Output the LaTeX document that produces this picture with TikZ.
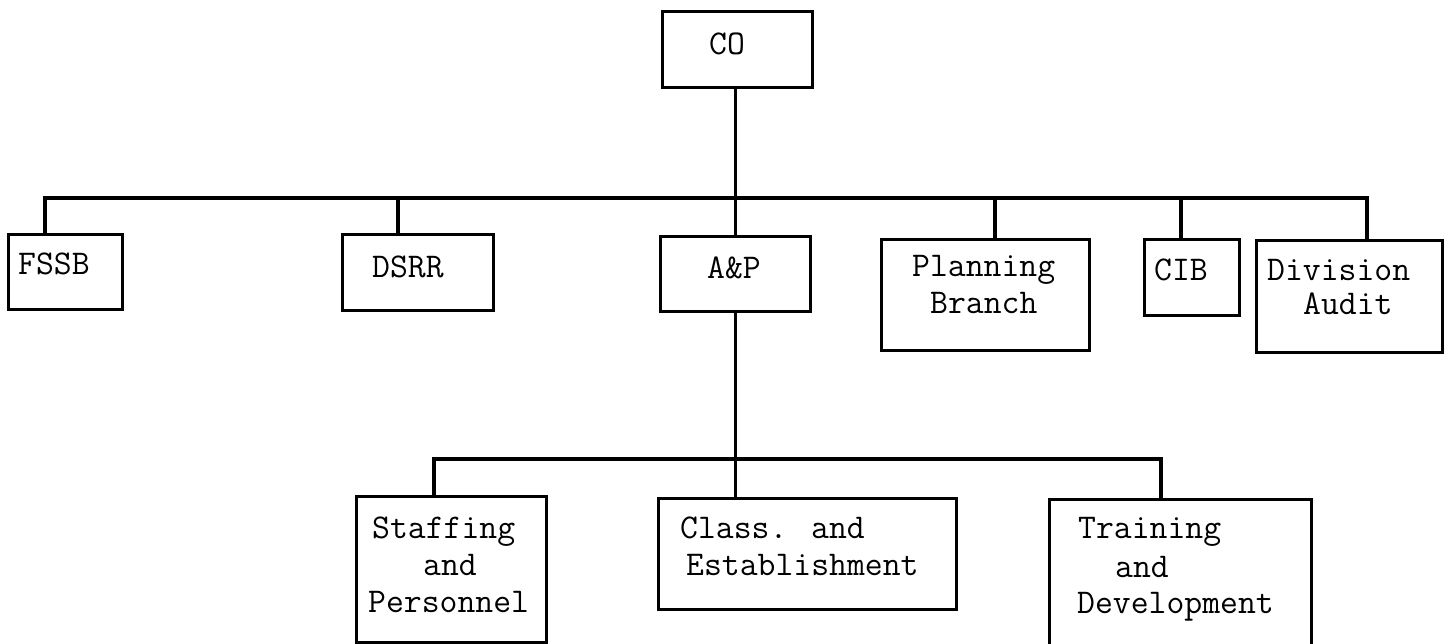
\documentclass[tikz,border=0pt]{standalone}
\usepackage{fontspec}
\begin{document}
\begin{tikzpicture}[x=1pt,y=-1pt,
  box/.style={draw, line width=3.2pt, rectangle, inner sep=0pt, anchor=north west},
  lbl/.style={inner sep=0pt, anchor=base west, font=\fontsize{34.7}{37}\selectfont\ttfamily\addfontfeature{FakeBold=0.7}},
  conn/.style={line width=3.2pt}]
\useasboundingbox (0,0) rectangle (1448,644);
% boxes
\node[box, minimum width=150pt, minimum height=76pt] (co) at (661,10) {};
\node[box, minimum width=114pt, minimum height=75pt] (fssb) at (7,233) {};
\node[box, minimum width=151pt, minimum height=76pt] (dsrr) at (341,233) {};
\node[box, minimum width=150pt, minimum height=75pt] (ap) at (659,235) {};
\node[box, minimum width=208pt, minimum height=111pt] (plan) at (880,238) {};
\node[box, minimum width=95pt, minimum height=76pt] (cib) at (1143,238) {};
\node[box, minimum width=186pt, minimum height=112pt] (audit) at (1255,239) {};
\node[box, minimum width=190pt, minimum height=146pt] (staff) at (355,495) {};
\node[box, minimum width=298pt, minimum height=111pt] (class) at (657,497) {};
\node[box, minimum width=262pt, minimum height=150pt] (train) at (1048,498) {};
% texts
\node[lbl] (tco) at (709,55) {CO};
\node[lbl] (tfssb) at (18,275) {FSSB};
\node[lbl] (tdsrr) at (372,278) {DSRR};
\node[lbl] (tap) at (707,279) {A\&P};
\node[lbl] (tplan1) at (912,277) {Planning};
\node[lbl] (tplan2) at (930,313) {Branch};
\node[lbl] (tcib) at (1154,281) {CIB};
\node[lbl] (taud1) at (1267,280) {Division};
\node[lbl] (taud2) at (1303,314) {Audit};
\node[lbl] (tst1) at (372,538) {Staffing};
\node[lbl] (tst2) at (423,575) {and};
\node[lbl] (tst3) at (368,612) {Personnel};
\node[lbl] (tcl1) at (680,538) {Class. and};
\node[lbl] (tcl2) at (686,575) {Establishment};
\node[lbl] (ttr1) at (1078,538) {Training};
\node[lbl] (ttr2) at (1115,577) {and};
\node[lbl] (ttr3) at (1077,613) {Development};
% bus coordinates
\coordinate (busL) at (45,198);
\coordinate (busR) at (1367,198);
\coordinate (jd) at (398,198);
\coordinate (jp) at (995,198);
\coordinate (jc) at (1181,198);
\coordinate (bus2L) at (434,459);
\coordinate (bus2R) at (1161,459);
% connectors
\draw[conn] (busL |- fssb.north) -- (busL) -- (busR) -- (busR |- audit.north);
\draw[conn] (ap.north |- co.south) -- (ap.north);
\draw[conn] (jd) -- (jd |- dsrr.north);
\draw[conn] (jp) -- (jp |- plan.north);
\draw[conn] (jc) -- (jc |- cib.north);
\draw[conn] (ap.south) -- (ap.south |- class.north);
\draw[conn] (bus2L |- staff.north) -- (bus2L) -- (bus2R) -- (bus2R |- train.north);
\end{tikzpicture}
\end{document}
